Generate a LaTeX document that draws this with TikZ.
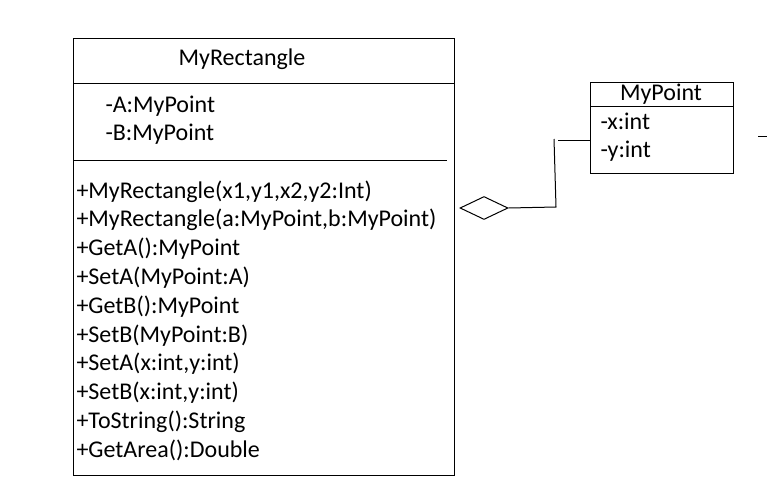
\documentclass[tikz,border=0pt]{standalone}
\usepackage{fontspec}
\setmainfont{Carlito}
\usetikzlibrary{shapes.geometric}
\tikzset{
    member/.style={anchor=base west, inner sep=0pt, font=\fontsize{24}{28}\selectfont},
    classname/.style={anchor=base, inner sep=0pt, font=\fontsize{24}{28}\selectfont},
    classbox/.style={draw, anchor=north west, inner sep=0pt, line width=1pt},
}
\begin{document}
\begin{tikzpicture}[x=1pt, y=-1pt, line width=1pt]
        \useasboundingbox (0,0) rectangle (767,495);
        % MyRectangle
        \node[classbox, minimum width=381pt, minimum height=437pt] (rectbox) at (73,38) {};
        \draw (rectbox.west |- 0,83) -- (rectbox.east |- 0,83);
        \draw (rectbox.west |- 0,160) -- (447,160);
        \node[classname] (rectname) at (242,65) {MyRectangle};
        \node[member] (attra) at (105,112) {-A:MyPoint};
        \node[member] (attrb) at (105,140) {-B:MyPoint};
        \foreach \m [count=\i from 0] in {%
            {+MyRectangle(x1,y1,x2,y2:Int)},
            {+MyRectangle(a:MyPoint,b:MyPoint)},
            {+GetA():MyPoint},
            {+SetA(MyPoint:A)},
            {+GetB():MyPoint},
            {+SetB(MyPoint:B)},
            {+SetA(x:int,y:int)},
            {+SetB(x:int,y:int)},
            {+ToString():String},
            {+GetArea():Double}}
            \node[member] (op\i) at (76,198+28.8*\i) {\m};
        % MyPoint
        \node[classbox, minimum width=143pt, minimum height=91pt] (pointbox) at (590,82) {};
        \draw (pointbox.west |- 0,106) -- (pointbox.east |- 0,106);
        \node[classname] (pointname) at (661,100) {MyPoint};
        \node[member] (attrx) at (600,129) {-x:int};
        \node[member] (attry) at (600,157) {-y:int};
        % aggregation
        \node[diamond, draw, inner sep=0pt, minimum width=48pt, minimum height=23pt] (agg) at (484,208) {};
        \coordinate (bend) at (556,207);
        \coordinate (rise) at (554,139);
        \coordinate (stub) at (558,140);
        \coordinate (edge) at (758,136);
        \draw (agg.east) -- (bend) -- (rise);
        \draw (stub) -- (stub -| pointbox.west);
        \draw (edge) -- ++(9,0);
    \end{tikzpicture}
\end{document}
